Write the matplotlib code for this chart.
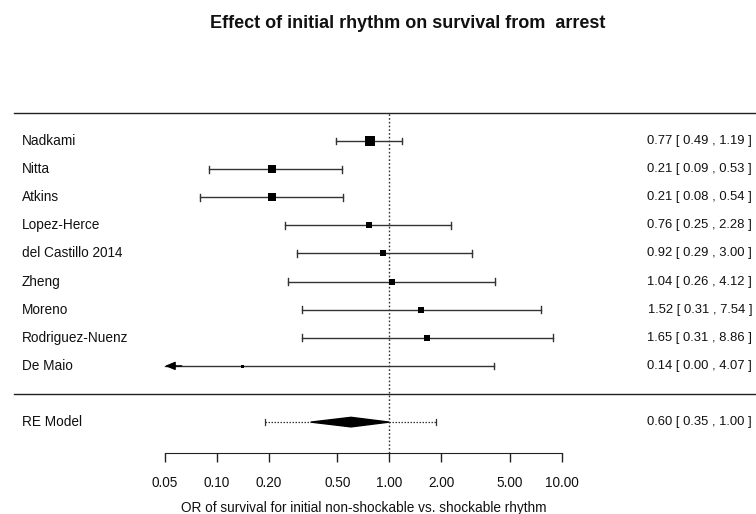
import numpy as np
import matplotlib
matplotlib.use("Agg")
import matplotlib.pyplot as plt
from matplotlib.patches import Polygon
from matplotlib.ticker import FixedLocator, FixedFormatter, NullLocator

plt.rcParams['font.family'] = ['Liberation Sans', 'DejaVu Sans']

studies = ["Nadkami", "Nitta", "Atkins", "Lopez-Herce", "del Castillo 2014",
           "Zheng", "Moreno", "Rodriguez-Nuenz", "De Maio"]
est = [0.77, 0.21, 0.21, 0.76, 0.92, 1.04, 1.52, 1.65, 0.14]
lower = [0.49, 0.09, 0.08, 0.25, 0.29, 0.26, 0.31, 0.31, 0.00]
upper = [1.19, 0.53, 0.54, 2.28, 3.00, 4.12, 7.54, 8.86, 4.07]
weights = [10.5, 7.5, 7.5, 6.5, 6.0, 6.0, 5.3, 6.2, 3.0]
re_label = "RE Model"
re_est, re_lo, re_hi = 0.60, 0.35, 1.00
pi_lo, pi_hi = 0.19, 1.87
ticks = [0.05, 0.10, 0.20, 0.50, 1.00, 2.00, 5.00, 10.00]
tick_labels = ["0.05", "0.10", "0.20", "0.50", "1.00", "2.00", "5.00", "10.00"]
title = "Effect of initial rhythm on survival from  arrest"
xlabel = "OR of survival for initial non-shockable vs. shockable rhythm"

W, H = 756, 514
fig = plt.figure(figsize=(W / 100, H / 100), dpi=100)
ax = fig.add_axes([0, 0, 1, 1])
ax.set_xscale('log')
ax.set_xlim(10 ** -2.258, 10 ** 2.127)
ax.set_ylim(-4.27, 14.02)
for s in ['top', 'left', 'right']:
    ax.spines[s].set_visible(False)
ax.yaxis.set_major_locator(NullLocator())
ax.patch.set_alpha(0)

alim_lo, alim_hi = ticks[0], ticks[-1]
k = len(studies)
rows = np.arange(k, 0, -1)
lc = '#333333'
fs = 9.8
fs_est = 9.4
tc = '#111111'

# horizontal rules
ax.axhline(k + 1, xmin=14 / W, xmax=1, color='#222222', lw=1)
ax.axhline(0, xmin=14 / W, xmax=1, color='#222222', lw=1)
# reference line
ax.plot([1, 1], [-2.096, k + 1], color='#333333', lw=1, ls=(0, (1.2, 1.5)))

capw = 0.12
for r, name, e, lo, hi, w in zip(rows, studies, est, lower, upper, weights):
    lo_c = max(lo, alim_lo)
    hi_c = min(hi, alim_hi)
    ax.plot([lo_c, hi_c], [r, r], color=lc, lw=1)
    if lo < alim_lo:
        ax.annotate("", xy=(alim_lo, r), xytext=(alim_lo * 1.25, r),
                    arrowprops=dict(arrowstyle='-|>,head_length=0.6,head_width=0.25',
                                    color='black', lw=1, shrinkA=0, shrinkB=0))
    else:
        ax.plot([lo, lo], [r - capw, r + capw], color=lc, lw=1)
    if hi <= alim_hi:
        ax.plot([hi, hi], [r - capw, r + capw], color=lc, lw=1)
    ax.plot([e], [r], marker='s', ms=w * 0.72, color='black', mec='black', mew=0)
    ax.text(22 / W, r, name, transform=ax.get_yaxis_transform(), ha='left',
            va='center', fontsize=fs, color=tc)
    ax.text(752 / W, r, f"{e:.2f} [ {lo:.2f} , {hi:.2f} ]",
            transform=ax.get_yaxis_transform(), ha='right', va='center',
            fontsize=fs_est, color=tc)

# RE model
rr = -1
ax.plot([pi_lo, re_lo], [rr, rr], color=lc, lw=0.9, ls=(0, (1.2, 1.2)))
ax.plot([re_hi, pi_hi], [rr, rr], color=lc, lw=0.9, ls=(0, (1.2, 1.2)))
ax.plot([pi_lo, pi_lo], [rr - capw, rr + capw], color=lc, lw=0.9)
ax.plot([pi_hi, pi_hi], [rr - capw, rr + capw], color=lc, lw=0.9)
dh = 0.17
ax.add_patch(Polygon([[re_lo, rr], [re_est, rr + dh], [re_hi, rr], [re_est, rr - dh]],
                     closed=True, color='black'))
ax.text(22 / W, rr, re_label, transform=ax.get_yaxis_transform(), ha='left',
        va='center', fontsize=fs, color=tc)
ax.text(752 / W, rr, f"{re_est:.2f} [ {re_lo:.2f} , {re_hi:.2f} ]",
        transform=ax.get_yaxis_transform(), ha='right', va='center',
        fontsize=fs_est, color=tc)

# bottom axis
ax.spines['bottom'].set_position(('data', -2.096))
ax.spines['bottom'].set_bounds(alim_lo, alim_hi)
ax.spines['bottom'].set_color('#222222')
ax.xaxis.set_major_locator(FixedLocator(ticks))
ax.xaxis.set_major_formatter(FixedFormatter(tick_labels))
ax.xaxis.set_minor_locator(NullLocator())
ax.tick_params(axis='x', direction='out', length=6.5, width=1, pad=10,
               labelsize=fs, colors='#222222', labelcolor=tc)
ax.text(364 / W, -4.07, xlabel, transform=ax.get_yaxis_transform(),
        ha='center', va='center', fontsize=fs, color=tc)

fig.text(407.5 / W, 1 - 23 / H, title, ha='center', va='center', fontsize=13,
         fontweight='bold', color=tc)

fig.savefig("out.png", dpi=100)
